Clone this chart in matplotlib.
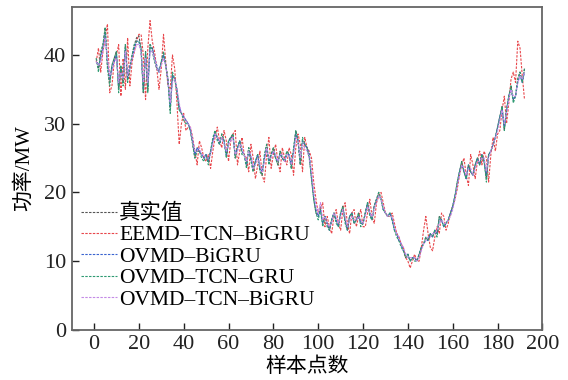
import numpy as np
import matplotlib
matplotlib.use('Agg')
import matplotlib.pyplot as plt

# == Fonts ==================================================
plt.rcParams['font.family'] = ['Liberation Serif', 'Noto Sans CJK SC']
plt.rcParams['font.size'] = 16
plt.rcParams['axes.unicode_minus'] = False

# == Data ===================================================
samples = np.arange(1, 193)

true_vals = [
    39.5, 38.0, 40.0, 41.5, 44.0, 38.5, 36.0, 38.5, 39.5, 40.5,
    35.0, 38.0, 36.0, 41.5, 36.5, 38.0, 40.0, 41.5, 42.5, 42.8,
    41.0, 34.5, 40.5, 35.0, 41.5, 41.0, 39.5, 38.0, 37.5, 39.0,
    40.0, 38.5, 36.5, 32.0, 37.0, 36.5, 35.0, 32.0, 31.5, 31.0,
    30.5, 30.0, 29.0, 27.0, 25.0, 26.5, 26.0, 25.5, 25.0, 25.5,
    24.5, 26.0, 27.5, 29.0, 28.0, 27.0, 28.5, 27.5, 25.5, 27.5,
    28.0, 28.5, 25.0, 26.5, 27.5, 26.0, 25.5, 24.0, 26.5, 25.0,
    23.0, 24.5, 25.5, 23.5, 22.5, 25.0, 27.0, 24.5, 25.5, 26.5,
    25.0, 24.0, 26.0, 25.0, 24.5, 26.0, 25.5, 23.5, 26.0, 29.0,
    27.5, 24.0, 27.5, 27.0, 26.5, 25.5, 22.0, 19.0, 17.0, 16.5,
    18.0, 15.5, 16.5, 15.5, 14.5, 16.0, 17.0, 16.0, 15.0, 17.0,
    18.0, 16.0, 14.5, 16.5, 17.0, 15.5, 16.0, 17.0, 15.5, 15.5,
    17.0, 18.5, 17.0, 16.0, 18.0, 19.0, 20.0, 19.0, 17.5, 17.0,
    16.5, 17.0, 16.0, 14.5, 14.0, 13.0, 12.5, 11.5, 10.5, 11.0,
    10.0, 10.5, 10.5, 10.0, 11.0, 12.0, 12.5, 13.5, 13.0, 14.0,
    13.5, 14.5, 14.0, 16.5, 16.0, 15.0, 15.5, 16.0, 17.0, 18.0,
    19.5, 21.5, 23.0, 24.5, 23.0, 22.0, 24.0, 23.0, 22.5, 24.0,
    25.0, 24.0, 25.5, 24.5, 22.0, 25.5, 26.0, 27.0, 28.0, 29.5,
    31.0, 32.5, 29.0, 32.0, 34.0, 35.5, 33.5, 34.0, 36.5, 37.5,
    36.0, 38.0,
]

eemd_tcn_bigru = [
    39.0, 41.0, 37.5, 40.5, 42.5, 44.5, 34.5, 35.5, 39.0, 40.0,
    41.5, 34.0, 39.5, 35.0, 42.5, 35.5, 39.0, 40.5, 42.0, 43.0,
    43.0, 40.0, 33.5, 41.0, 45.0, 42.0, 40.5, 38.0, 35.0, 38.0,
    43.0, 39.0, 35.5, 35.0, 40.0, 38.0, 33.0, 27.0, 30.0, 31.5,
    29.0, 29.5, 29.5, 28.0, 26.0, 24.0, 27.5, 26.5, 25.0, 24.5,
    25.5, 23.5, 26.0, 28.0, 29.5, 27.5, 26.5, 29.0, 27.5, 24.5,
    27.5, 28.5, 29.0, 24.0, 26.0, 28.0, 25.5, 25.0, 23.0, 27.0,
    25.0, 22.0, 24.0, 26.0, 22.5, 21.5, 25.5, 28.0, 23.5, 25.5,
    27.0, 24.5, 23.0, 26.5, 25.0, 24.0, 26.5, 25.5, 22.5, 26.5,
    28.5, 27.0, 23.0, 28.0, 26.5, 26.0, 25.0, 21.5, 19.0, 17.0,
    17.5, 18.5, 15.0, 16.5, 15.0, 14.0, 16.5, 17.5, 15.5, 14.5,
    17.5, 18.5, 15.5, 14.0, 17.0, 17.5, 15.0, 16.5, 17.5, 15.0,
    15.0, 17.0, 19.0, 16.5, 15.5, 18.5, 19.5, 20.0, 18.5, 17.0,
    16.5, 16.5, 17.0, 15.5, 14.0, 13.5, 12.5, 12.0, 10.5, 10.0,
    9.0, 10.0, 11.0, 10.0, 10.0, 12.0, 14.5, 16.5, 14.0, 12.0,
    11.5, 13.5, 15.0, 14.0, 17.0, 16.5, 14.5, 15.5, 17.0, 18.0,
    19.0, 20.5, 22.5, 24.0, 25.0, 22.5, 21.0, 25.5, 24.0, 22.0,
    24.5, 26.0, 24.0, 26.0, 25.0, 21.5, 25.5, 28.0, 26.0, 28.5,
    29.0, 32.0, 34.0, 30.0, 33.0, 36.5, 37.5, 36.0, 42.0, 41.0,
    37.0, 33.5,
]

ovmd_bigru = [
    39.0, 38.5, 39.5, 41.0, 43.0, 39.0, 36.5, 38.0, 39.0, 40.0,
    35.5, 38.0, 36.5, 41.0, 36.5, 38.5, 39.5, 41.0, 42.0, 42.0,
    40.5, 35.0, 40.0, 35.5, 41.0, 41.0, 39.5, 38.5, 37.5, 39.0,
    40.0, 38.5, 36.0, 32.5, 37.0, 36.5, 35.0, 32.5, 31.5, 31.0,
    30.5, 30.0, 29.0, 27.5, 25.5, 26.5, 26.0, 25.5, 25.0, 25.5,
    24.5, 26.0, 27.5, 28.5, 28.0, 27.0, 28.0, 27.5, 25.5, 27.0,
    28.0, 28.0, 25.5, 26.5, 27.5, 26.0, 25.5, 24.0, 26.0, 25.0,
    23.5, 24.5, 25.5, 23.5, 23.0, 25.0, 26.5, 24.5, 25.5, 26.0,
    25.0, 24.5, 25.5, 25.0, 24.5, 25.5, 25.5, 24.0, 26.0, 28.5,
    27.5, 24.5, 27.5, 27.0, 26.5, 25.5, 22.5, 19.5, 17.5, 16.5,
    17.5, 15.5, 16.5, 15.5, 14.5, 16.0, 17.0, 16.0, 15.0, 17.0,
    17.5, 16.0, 14.5, 16.5, 17.0, 15.5, 16.0, 16.5, 15.5, 15.5,
    17.0, 18.5, 17.0, 16.0, 18.0, 19.0, 19.5, 19.0, 17.5, 17.0,
    16.5, 17.0, 16.0, 14.5, 14.0, 13.0, 12.5, 11.5, 11.0, 11.0,
    10.0, 10.5, 10.5, 10.0, 11.0, 12.0, 12.5, 13.0, 13.0, 14.0,
    13.5, 14.5, 14.0, 16.0, 16.0, 15.0, 15.5, 16.0, 17.0, 18.0,
    19.5, 21.0, 23.0, 24.0, 23.0, 22.0, 24.0, 23.0, 22.5, 24.0,
    25.0, 24.0, 25.5, 24.5, 22.5, 25.5, 26.0, 27.0, 28.0, 29.5,
    31.0, 32.0, 29.5, 32.0, 34.0, 35.0, 33.5, 34.0, 36.0, 37.0,
    36.0, 37.5,
]

ovmd_tcn_gru = [
    39.5, 37.5, 40.5, 41.5, 44.0, 38.0, 35.5, 38.5, 39.5, 40.5,
    34.5, 38.5, 35.5, 41.5, 36.0, 38.0, 40.0, 41.5, 42.0, 42.0,
    41.0, 34.5, 40.5, 34.5, 41.5, 40.5, 39.0, 38.0, 37.5, 39.0,
    40.5, 38.5, 36.5, 31.5, 37.5, 36.5, 34.5, 32.0, 31.5, 30.5,
    30.0, 30.0, 29.0, 27.0, 25.0, 26.0, 26.0, 25.0, 24.5, 25.5,
    24.0, 26.0, 28.0, 29.0, 27.5, 27.0, 28.5, 27.5, 25.0, 27.5,
    28.0, 28.5, 25.0, 26.5, 27.5, 25.5, 25.5, 23.5, 26.5, 24.5,
    23.0, 24.5, 25.5, 23.0, 22.5, 25.5, 27.0, 24.0, 25.5, 26.5,
    25.0, 24.0, 26.0, 25.0, 24.5, 26.0, 25.5, 23.5, 26.5, 29.0,
    27.5, 24.0, 28.0, 27.0, 26.5, 25.0, 22.0, 19.0, 17.0, 16.0,
    17.5, 15.0, 16.5, 15.0, 14.5, 16.0, 17.0, 15.5, 15.0, 17.0,
    18.0, 15.5, 14.5, 16.5, 17.0, 15.5, 16.0, 17.0, 15.0, 15.5,
    17.0, 18.5, 16.5, 16.0, 18.0, 19.0, 20.0, 19.0, 17.5, 17.0,
    16.5, 17.0, 16.0, 14.5, 13.5, 13.0, 12.0, 11.5, 10.5, 11.0,
    10.0, 10.5, 10.0, 10.0, 11.0, 12.0, 12.5, 13.5, 13.0, 14.0,
    13.5, 14.5, 13.5, 16.5, 16.0, 15.0, 15.5, 16.0, 17.0, 18.0,
    19.5, 21.5, 23.0, 24.5, 23.0, 22.0, 24.0, 23.0, 22.5, 24.0,
    25.0, 24.0, 25.5, 24.5, 21.5, 25.5, 26.0, 27.0, 28.0, 29.5,
    31.0, 32.5, 29.0, 32.0, 34.0, 35.5, 33.0, 34.0, 36.5, 37.5,
    36.0, 38.0,
]

ovmd_tcn_bigru = [
    39.0, 38.5, 39.0, 40.5, 42.5, 39.5, 37.0, 37.5, 39.0, 39.5,
    36.0, 37.5, 36.5, 40.5, 37.0, 38.0, 39.5, 40.5, 41.5, 41.5,
    40.5, 36.0, 39.5, 36.0, 40.5, 40.5, 39.5, 38.0, 37.5, 38.5,
    39.5, 38.5, 36.5, 33.0, 36.0, 36.5, 35.0, 33.0, 31.5, 31.0,
    30.5, 30.0, 29.5, 27.5, 26.0, 26.0, 26.5, 25.5, 25.5, 25.0,
    25.0, 25.5, 27.0, 28.5, 28.0, 27.5, 28.0, 27.0, 26.0, 27.0,
    27.5, 28.0, 25.5, 26.0, 27.0, 26.5, 25.5, 24.5, 26.0, 25.5,
    23.5, 24.0, 25.0, 24.0, 23.0, 24.5, 26.5, 25.0, 25.0, 26.0,
    25.5, 24.5, 25.5, 25.5, 24.5, 25.5, 25.5, 24.0, 25.5, 28.0,
    27.5, 25.0, 27.0, 26.5, 26.0, 25.0, 23.0, 20.0, 18.0, 17.0,
    18.5, 16.0, 16.5, 15.5, 15.0, 15.5, 17.0, 16.5, 15.5, 16.5,
    17.5, 16.5, 15.0, 16.0, 16.5, 16.0, 16.0, 16.5, 16.0, 15.5,
    16.5, 18.0, 17.0, 16.5, 17.5, 18.5, 19.5, 19.0, 18.0, 17.0,
    16.5, 16.5, 16.5, 15.0, 14.0, 13.5, 12.5, 12.0, 11.0, 10.5,
    10.5, 10.5, 10.5, 10.0, 10.5, 11.5, 12.5, 13.0, 13.5, 13.5,
    14.0, 14.0, 14.5, 15.5, 16.0, 15.5, 15.5, 16.0, 16.5, 17.5,
    19.0, 21.0, 22.5, 24.0, 23.5, 22.5, 23.5, 23.5, 22.5, 23.5,
    24.5, 24.5, 25.0, 25.0, 23.0, 25.0, 26.0, 27.0, 28.0, 29.0,
    30.5, 32.0, 30.0, 31.5, 33.5, 35.0, 34.0, 34.0, 36.0, 37.0,
    36.5, 37.5,
]

labels = ['真实值', 'EEMD\u2013TCN\u2013BiGRU', 'OVMD\u2013BiGRU',
          'OVMD\u2013TCN\u2013GRU', 'OVMD\u2013TCN\u2013BiGRU']
colors = ['#555555', '#e8474c', '#3a64d0', '#2e9a72', '#c48ae6']
x_ticks = np.arange(0, 201, 20)
y_ticks = np.arange(0, 41, 10)

# == Plot ===================================================
fig = plt.figure(figsize=(5.68, 3.80), dpi=100)
ax = fig.add_axes([0.126, 0.132, 0.829, 0.850])

series = [true_vals, eemd_tcn_bigru, ovmd_bigru, ovmd_tcn_gru, ovmd_tcn_bigru]
for vals, lab, col in zip(series, labels, colors):
    ax.plot(samples, vals, color=col, lw=0.8, ls=(0, (2.2, 1.2)), label=lab)

ax.set_xlim(-10, 200)
ax.set_ylim(0, 47)
ax.set_xticks(x_ticks)
ax.set_yticks(y_ticks)
ax.tick_params(direction='in', length=5, width=1, colors='#222222',
               labelsize=16, pad=4)
for sp in ax.spines.values():
    sp.set_color('#666666')
    sp.set_linewidth(1.3)

ax.set_xlabel('样本点数', fontsize=15, labelpad=2)
ax.set_ylabel('功率/MW', fontsize=15, labelpad=7)

ax.legend(loc='upper left', bbox_to_anchor=(0.02, 0.39), frameon=False,
          fontsize=15.5, handlelength=1.65, handletextpad=0.12,
          labelspacing=0.06, borderaxespad=0.0, borderpad=0.0)

fig.savefig('out.png', dpi=100)
